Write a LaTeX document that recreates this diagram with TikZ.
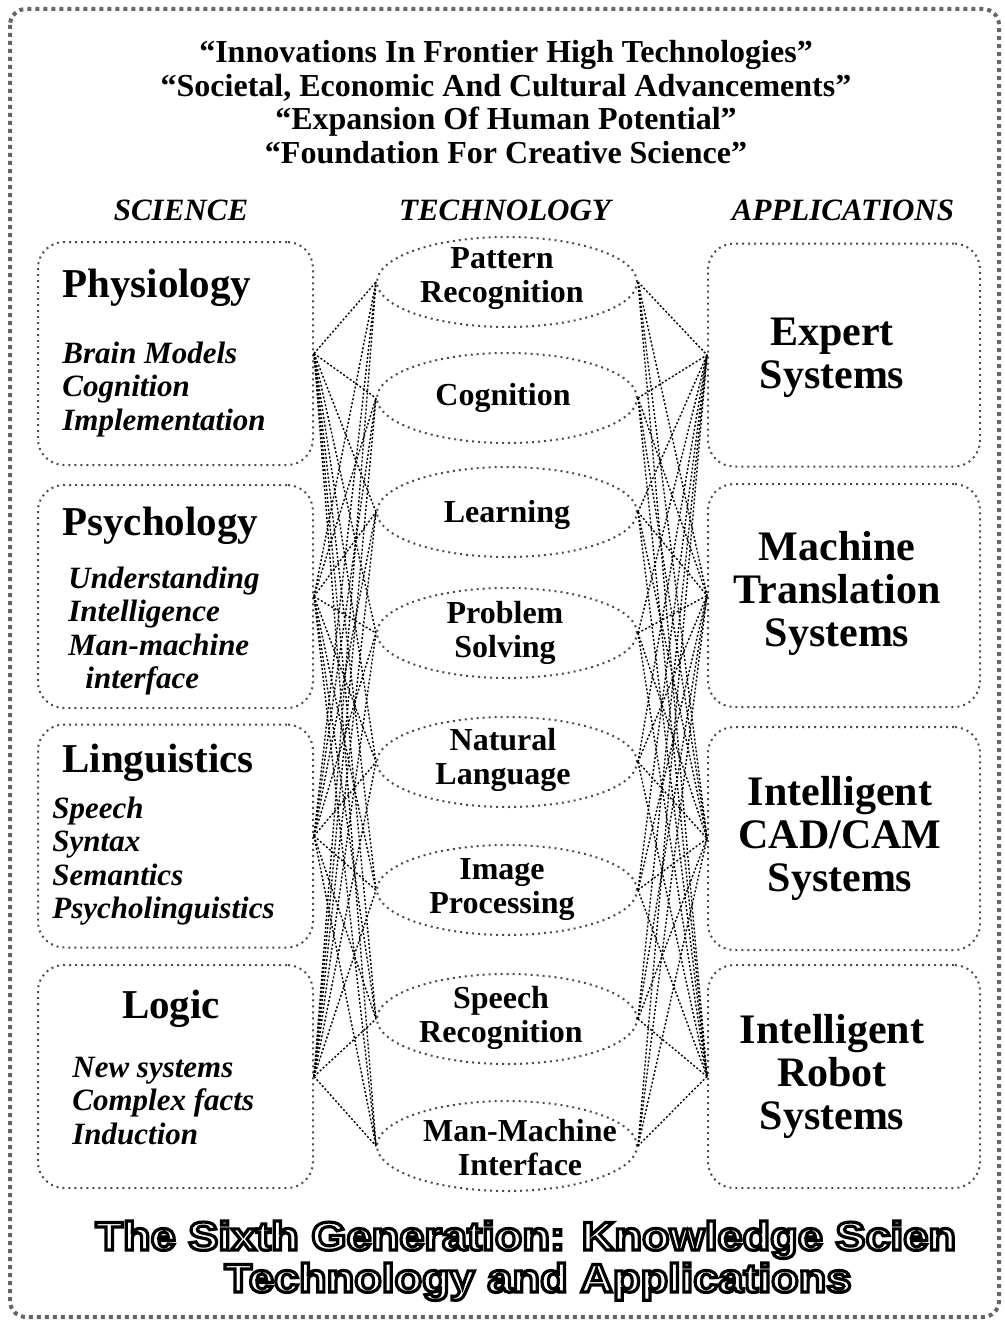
\documentclass[tikz,border=0pt]{standalone}
\usepackage{fontspec}
\setmainfont{Liberation Serif}
\setsansfont{Liberation Sans}
\usetikzlibrary{shapes.geometric}
\begin{document}
\begin{tikzpicture}[x=0.5pt,y=-0.5pt,
  outerframe/.style={draw=black!60, line width=2pt, dotted, rounded corners=8pt},
  sbox/.style={draw=black!70, line width=1pt, dotted, rounded corners=13pt, minimum width=137.5pt, minimum height=111.5pt, inner sep=0pt},
  abox/.style={sbox, minimum width=136pt},
  ell/.style={ellipse, draw=black!70, line width=1pt, dotted, minimum width=130pt, minimum height=45pt, inner sep=0pt},
  conn/.style={line width=0.7pt, dash pattern=on 1pt off 1pt},
  ttl/.style={anchor=base, inner sep=0pt, font=\fontsize{16}{16.7}\selectfont\bfseries},
  hdr/.style={anchor=base, inner sep=0pt, font=\fontsize{15.5}{17}\selectfont\bfseries\itshape},
  subj/.style={anchor=base west, inner sep=0pt, font=\fontsize{20.5}{22}\selectfont\bfseries},
  itm/.style={anchor=base west, inner sep=0pt, font=\fontsize{15.5}{16.8}\selectfont\bfseries\itshape},
  etxt/.style={anchor=base, inner sep=0pt, font=\fontsize{16}{17}\selectfont\bfseries},
  atxt/.style={anchor=base, inner sep=0pt, font=\fontsize{21}{21.5}\selectfont\bfseries},
  bot/.style={inner sep=0pt, font=\fontsize{20}{22}\selectfont\sffamily\bfseries}
]
\useasboundingbox (0,0) rectangle (1005,1322);
\draw[outerframe] (10,9) rectangle (999,1317);

% title
\node[ttl] (title) at (506,63) {\begin{tabular}[t]{@{}c@{}}“Innovations In Frontier High Technologies”\\“Societal, Economic And Cultural Advancements”\\“Expansion Of Human Potential”\\“Foundation For Creative Science”\end{tabular}};

% headers
\node[hdr] (hS) at (181,220) {SCIENCE};
\node[hdr] (hT) at (505,220) {TECHNOLOGY};
\node[hdr] (hA) at (843,220) {APPLICATIONS};

% left boxes
\node[sbox] (L1) at (175.5,353.5) {};
\node[sbox] (L2) at (175.5,596.5) {};
\node[sbox] (L3) at (175.5,836) {};
\node[sbox] (L4) at (175.5,1076.5) {};

\node[subj] (L1t) at (62,297) {Physiology};
\node[itm] (L1i) at (62,363) {\begin{tabular}[t]{@{}l@{}}Brain Models\\Cognition\\Implementation\end{tabular}};
\node[subj] (L2t) at (62,535) {Psychology};
\node[itm] (L2i) at (68,588) {\begin{tabular}[t]{@{}l@{}}Understanding\\Intelligence\\Man-machine\\\hspace*{8.5pt}interface\end{tabular}};
\node[subj] (L3t) at (62,772) {Linguistics};
\node[itm] (L3i) at (52,818) {\begin{tabular}[t]{@{}l@{}}Speech\\Syntax\\Semantics\\Psycholinguistics\end{tabular}};
\node[subj, anchor=base] (L4t) at (171,1018) {Logic};
\node[itm] (L4i) at (72,1077) {\begin{tabular}[t]{@{}l@{}}New systems\\Complex facts\\Induction\end{tabular}};

% ellipses
\node[ell] (E1) at (507,282) {};
\node[ell] (E2) at (507,398) {};
\node[ell] (E3) at (507,512) {};
\node[ell] (E4) at (507,633) {};
\node[ell] (E5) at (507,762) {};
\node[ell] (E6) at (507,890) {};
\node[ell] (E7) at (507,1019) {};
\node[ell] (E8) at (507,1146) {};

\node[etxt] (E1t) at (502,268) {\begin{tabular}[t]{@{}c@{}}Pattern\\Recognition\end{tabular}};
\node[etxt] (E2t) at (503,405) {Cognition};
\node[etxt] (E3t) at (507,522) {Learning};
\node[etxt] (E4t) at (505,623) {\begin{tabular}[t]{@{}c@{}}Problem\\Solving\end{tabular}};
\node[etxt] (E5t) at (503,750) {\begin{tabular}[t]{@{}c@{}}Natural\\Language\end{tabular}};
\node[etxt] (E6t) at (502,879) {\begin{tabular}[t]{@{}c@{}}Image\\Processing\end{tabular}};
\node[etxt] (E7t) at (501,1008) {\begin{tabular}[t]{@{}c@{}}Speech\\Recognition\end{tabular}};
\node[etxt] (E8t) at (520,1141) {\begin{tabular}[t]{@{}c@{}}Man-Machine\\Interface\end{tabular}};

% right boxes
\node[abox] (R1) at (844,355) {};
\node[abox] (R2) at (844,595.5) {};
\node[abox] (R3) at (844,838.5) {};
\node[abox] (R4) at (844,1076.5) {};

\node[atxt] (R1t) at (832,345) {\begin{tabular}[t]{@{}c@{}}Expert\\Systems\end{tabular}};
\node[atxt] (R2t) at (837,560) {\begin{tabular}[t]{@{}c@{}}Machine\\Translation\\Systems\end{tabular}};
\node[atxt] (R3t) at (840,805) {\begin{tabular}[t]{@{}c@{}}Intelligent\\CAD/CAM\\Systems\end{tabular}};
\node[atxt] (R4t) at (832,1043) {\begin{tabular}[t]{@{}c@{}}Intelligent\\Robot\\Systems\end{tabular}};

% connectors
\foreach \a in {L1,L2,L3,L4}{
  \foreach \b in {E1,E2,E3,E4,E5,E6,E7,E8}{
    \draw[conn] (\a.east) -- (\b.west);
  }
}
\foreach \b in {E1,E2,E3,E4,E5,E6,E7,E8}{
  \foreach \c in {R1,R2,R3,R4}{
    \draw[conn] (\b.east) -- (\c.west);
  }
}

% bottom caption
\node[bot, anchor=base west] (B1) at (95,1250) {\addfontfeature{FakeBold=8,FakeStretch=1.13}\special{pdf:literal direct 1 1 1 rg 0 0 0 RG}The Sixth Generation: Knowledge Scien};
\node[bot, anchor=base] (B2) at (538,1292) {\addfontfeature{FakeBold=8,FakeStretch=1.13}\special{pdf:literal direct 1 1 1 rg 0 0 0 RG}Technology and Applications};
\end{tikzpicture}
\end{document}
